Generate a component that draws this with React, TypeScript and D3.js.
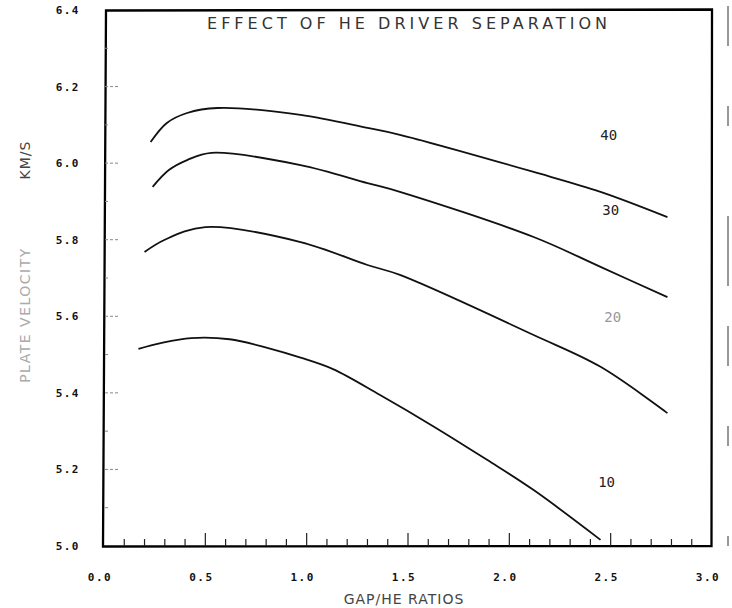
import React, { useEffect, useRef } from 'react'
import * as d3 from 'd3'

// gap/HE ratio vs plate velocity (km/s), one curve per separation
const xTicks = [0, 0.5, 1.0, 1.5, 2.0, 2.5, 3.0]
const yTicks = [5.0, 5.2, 5.4, 5.6, 5.8, 6.0, 6.2, 6.4]

const sep40 = [
  [0.23, 6.055], [0.31, 6.105], [0.41, 6.131], [0.56, 6.144], [0.97, 6.126],
  [1.3, 6.092], [1.46, 6.074], [2.12, 5.977], [2.45, 5.925], [2.78, 5.859],
]
const sep30 = [
  [0.24, 5.938], [0.32, 5.982], [0.41, 6.008], [0.53, 6.027], [0.97, 5.995],
  [1.3, 5.948], [1.46, 5.925], [2.12, 5.807], [2.45, 5.729], [2.78, 5.65],
]
const sep20 = [
  [0.2, 5.768], [0.3, 5.8], [0.5, 5.833], [0.97, 5.794], [1.3, 5.734],
  [1.46, 5.708], [2.12, 5.551], [2.45, 5.468], [2.78, 5.347],
]
const sep10 = [
  [0.17, 5.515], [0.28, 5.53], [0.43, 5.543], [0.62, 5.54], [0.81, 5.517],
  [0.97, 5.492], [1.13, 5.462], [1.36, 5.395], [1.63, 5.311], [1.89, 5.225],
  [2.12, 5.146], [2.45, 5.016],
]

const curves = [
  { label: '40', pts: sep40, at: [2.49, 6.06] },
  { label: '30', pts: sep30, at: [2.5, 5.865] },
  { label: '20', pts: sep20, at: [2.51, 5.585], faint: true },
  { label: '10', pts: sep10, at: [2.48, 5.155] },
]

const W = 732
const H = 608
const L = 104
const R = 712
const T = 10
const B = 546

const App = () => {
  const ref = useRef<SVGSVGElement>(null)

  useEffect(() => {
    const svg = d3.select(ref.current)
    svg.selectAll('*').remove()

    const x = d3.scaleLinear().domain([0, 3]).range([L, R])
    const y = d3.scaleLinear().domain([5.0, 6.4]).range([B, T])

    svg.append('rect').attr('width', W).attr('height', H).attr('fill', '#fff')

    // scanned frame: the left side leans a little, as in the reference
    svg
      .append('path')
      .attr('d', `M${L + 2},${T + 0.5}L${R},${T - 0.5}L${R - 0.5},${B}L${L - 1},${B + 0.5}Z`)
      .attr('fill', 'none')
      .attr('stroke', '#000')
      .attr('stroke-width', 2.3)

    // bottom ticks every 0.1, taller at the half units
    const xMinor = d3.range(1, 30).map((i) => i / 10)
    svg
      .append('g')
      .selectAll('line')
      .data(xMinor)
      .join('line')
      .attr('x1', (d) => x(d))
      .attr('x2', (d) => x(d))
      .attr('y1', B)
      .attr('y2', (d) => (Math.round(d * 10) % 5 === 0 ? B - 13 : B - 7))
      .attr('stroke', '#222')
      .attr('stroke-width', 1.2)

    // left ticks, faint like the scan
    const yMinor = d3.range(1, 14).map((i) => 5 + i / 10)
    svg
      .append('g')
      .selectAll('line')
      .data(yMinor)
      .join('line')
      .attr('x1', L + 1)
      .attr('x2', (d) => (Math.round(d * 10) % 2 === 0 ? L + 14 : L + 4))
      .attr('y1', (d) => y(d))
      .attr('y2', (d) => y(d))
      .attr('stroke', '#888')
      .attr('stroke-width', 1)
      .attr('stroke-dasharray', '3,2')

    const tickFont = "'DejaVu Sans Mono', monospace"

    svg
      .append('g')
      .selectAll('text')
      .data(xTicks)
      .join('text')
      .attr('x', (d) => x(d) - 4)
      .attr('y', 581)
      .attr('text-anchor', 'middle')
      .attr('font-family', tickFont)
      .attr('font-weight', 'bold')
      .attr('font-size', 11)
      .attr('letter-spacing', 1.5)
      .attr('fill', '#111')
      .text((d) => d3.format('.1f')(d))

    svg
      .append('g')
      .selectAll('text')
      .data(yTicks)
      .join('text')
      .attr('x', 80)
      .attr('y', (d) => y(d) + 4)
      .attr('text-anchor', 'end')
      .attr('font-family', tickFont)
      .attr('font-weight', 'bold')
      .attr('font-size', 11)
      .attr('letter-spacing', 1.5)
      .attr('fill', '#111')
      .text((d) => d3.format('.1f')(d))

    // curves
    const line = d3
      .line<number[]>()
      .x((d) => x(d[0]))
      .y((d) => y(d[1]))
      .curve(d3.curveCatmullRom.alpha(0.5))

    svg
      .append('g')
      .selectAll('path')
      .data(curves)
      .join('path')
      .attr('d', (d) => line(d.pts))
      .attr('fill', 'none')
      .attr('stroke', '#111')
      .attr('stroke-width', 1.8)

    svg
      .append('g')
      .selectAll('text')
      .data(curves)
      .join('text')
      .attr('x', (d) => x(d.at[0]))
      .attr('y', (d) => y(d.at[1]))
      .attr('text-anchor', 'middle')
      .attr('font-family', tickFont)
      .attr('font-size', 14)
      .attr('fill', (d) => (d.faint ? '#999' : '#222'))
      .text((d) => d.label)

    // title and axis labels
    svg
      .append('text')
      .attr('x', 207)
      .attr('y', 29)
      .attr('textLength', 400)
      .attr('lengthAdjust', 'spacing')
      .attr('font-family', "'DejaVu Sans', sans-serif")
      .attr('font-size', 16)
      .attr('fill', '#333')
      .text('EFFECT OF HE DRIVER SEPARATION')

    svg
      .append('text')
      .attr('x', 404)
      .attr('y', 604)
      .attr('text-anchor', 'middle')
      .attr('font-family', "'DejaVu Sans', sans-serif")
      .attr('font-size', 14)
      .attr('letter-spacing', 1)
      .attr('fill', '#444')
      .text('GAP/HE RATIOS')

    svg
      .append('text')
      .attr('transform', 'translate(30,160) rotate(-90)')
      .attr('text-anchor', 'middle')
      .attr('font-family', "'DejaVu Sans', sans-serif")
      .attr('font-size', 14)
      .attr('letter-spacing', 1)
      .attr('fill', '#444')
      .text('KM/S')

    svg
      .append('text')
      .attr('transform', 'translate(30,315) rotate(-90)')
      .attr('text-anchor', 'middle')
      .attr('font-family', "'DejaVu Sans', sans-serif")
      .attr('font-size', 14)
      .attr('letter-spacing', 1.5)
      .attr('fill', '#aaa')
      .text('PLATE VELOCITY')

    // stray edge of the scanned page
    svg
      .append('line')
      .attr('x1', 728)
      .attr('x2', 728)
      .attr('y1', 6)
      .attr('y2', 546)
      .attr('stroke', '#777')
      .attr('stroke-width', 1.5)
      .attr('stroke-dasharray', '40,60,20,90,70,40')
  }, [])

  return (
    <svg
      ref={ref}
      width={W}
      height={H}
      style={{ position: 'absolute', left: 0, top: 0, display: 'block' }}
    />
  )
}

export default App
